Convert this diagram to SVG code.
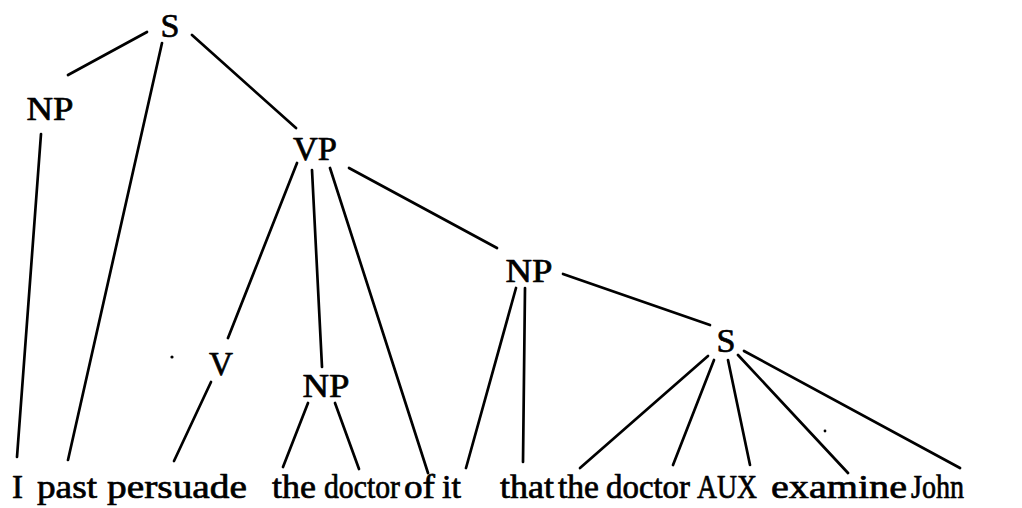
<svg xmlns="http://www.w3.org/2000/svg" width="1022" height="508" viewBox="0 0 1022 508">
  <style>
    .lbl { font-family: "Liberation Serif", "DejaVu Serif", serif; font-size: 34px; fill: #000; stroke: #000; stroke-width: 0.7; stroke-linejoin: round; text-anchor: middle; }
    .word { font-family: "Liberation Serif", "DejaVu Serif", serif; font-size: 34px; fill: #000; stroke: #000; stroke-width: 0.7; stroke-linejoin: round; }
    .edge { stroke: #000; stroke-width: 2.7; stroke-linecap: round; fill: none; }
  </style>
  <rect width="1022" height="508" fill="#fff"/>

  <!-- branches of the tree -->
  <g id="connectors">
    <line class="edge" x1="147" y1="32" x2="68" y2="75"/>
    <line class="edge" x1="162" y1="43" x2="68" y2="460"/>
    <line class="edge" x1="192" y1="35" x2="296" y2="128"/>
    <line class="edge" x1="41" y1="134" x2="17" y2="457"/>
    <line class="edge" x1="297" y1="163" x2="228" y2="338"/>
    <line class="edge" x1="312" y1="170" x2="322" y2="367"/>
    <line class="edge" x1="330" y1="168" x2="428" y2="473"/>
    <line class="edge" x1="349" y1="168" x2="497" y2="248"/>
    <line class="edge" x1="211" y1="382" x2="174" y2="461"/>
    <line class="edge" x1="308" y1="403" x2="283" y2="467"/>
    <line class="edge" x1="335" y1="403" x2="359" y2="469"/>
    <line class="edge" x1="516" y1="288" x2="466" y2="468"/>
    <line class="edge" x1="525" y1="288" x2="523" y2="462"/>
    <line class="edge" x1="563" y1="274" x2="710" y2="325"/>
    <line class="edge" x1="708" y1="356" x2="580" y2="468"/>
    <line class="edge" x1="714" y1="360" x2="673" y2="465"/>
    <line class="edge" x1="728" y1="360" x2="750" y2="465"/>
    <line class="edge" x1="738" y1="355" x2="848" y2="473"/>
    <line class="edge" x1="744" y1="351" x2="960" y2="468"/>
  </g>

  <!-- category labels -->
  <g id="s-root"><text class="lbl" x="170" y="37" textLength="19" lengthAdjust="spacingAndGlyphs">S</text></g>
  <g id="np-subject"><text class="lbl" x="50" y="120" textLength="47" lengthAdjust="spacingAndGlyphs">NP</text></g>
  <g id="vp"><text class="lbl" x="315" y="160" textLength="44" lengthAdjust="spacingAndGlyphs">VP</text></g>
  <g id="np-object"><text class="lbl" x="529" y="282" textLength="47" lengthAdjust="spacingAndGlyphs">NP</text></g>
  <g id="v"><text class="lbl" x="221" y="375" textLength="24" lengthAdjust="spacingAndGlyphs">V</text></g>
  <g id="np-doctor"><text class="lbl" x="326" y="397" textLength="47" lengthAdjust="spacingAndGlyphs">NP</text></g>
  <g id="s-embedded"><text class="lbl" x="726" y="352" textLength="19" lengthAdjust="spacingAndGlyphs">S</text></g>

  <!-- terminal string -->
  <g id="terminals">
    <text class="word" x="12" y="498" textLength="11" lengthAdjust="spacingAndGlyphs">I</text>
    <text class="word" x="37" y="498" textLength="60" lengthAdjust="spacingAndGlyphs">past</text>
    <text class="word" x="107" y="498" textLength="140" lengthAdjust="spacingAndGlyphs">persuade</text>
    <text class="word" x="272" y="498" textLength="44" lengthAdjust="spacingAndGlyphs">the</text>
    <text class="word" x="324" y="498" textLength="76" lengthAdjust="spacingAndGlyphs">doctor</text>
    <text class="word" x="404" y="498" textLength="31" lengthAdjust="spacingAndGlyphs">of</text>
    <text class="word" x="442" y="498" textLength="19" lengthAdjust="spacingAndGlyphs">it</text>
    <text class="word" x="500" y="498" textLength="54" lengthAdjust="spacingAndGlyphs">that</text>
    <text class="word" x="558" y="498" textLength="41" lengthAdjust="spacingAndGlyphs">the</text>
    <text class="word" x="606" y="498" textLength="84" lengthAdjust="spacingAndGlyphs">doctor</text>
    <text class="word" x="697" y="498" textLength="60" lengthAdjust="spacingAndGlyphs">AUX</text>
    <text class="word" x="771" y="498" textLength="136" lengthAdjust="spacingAndGlyphs">examine</text>
    <text class="word" x="911" y="498" textLength="53" lengthAdjust="spacingAndGlyphs">John</text>
  </g>

  <!-- stray specks -->
  <circle cx="172" cy="357" r="1.6" fill="#000"/>
  <circle cx="825" cy="431" r="1.4" fill="#000"/>
</svg>
